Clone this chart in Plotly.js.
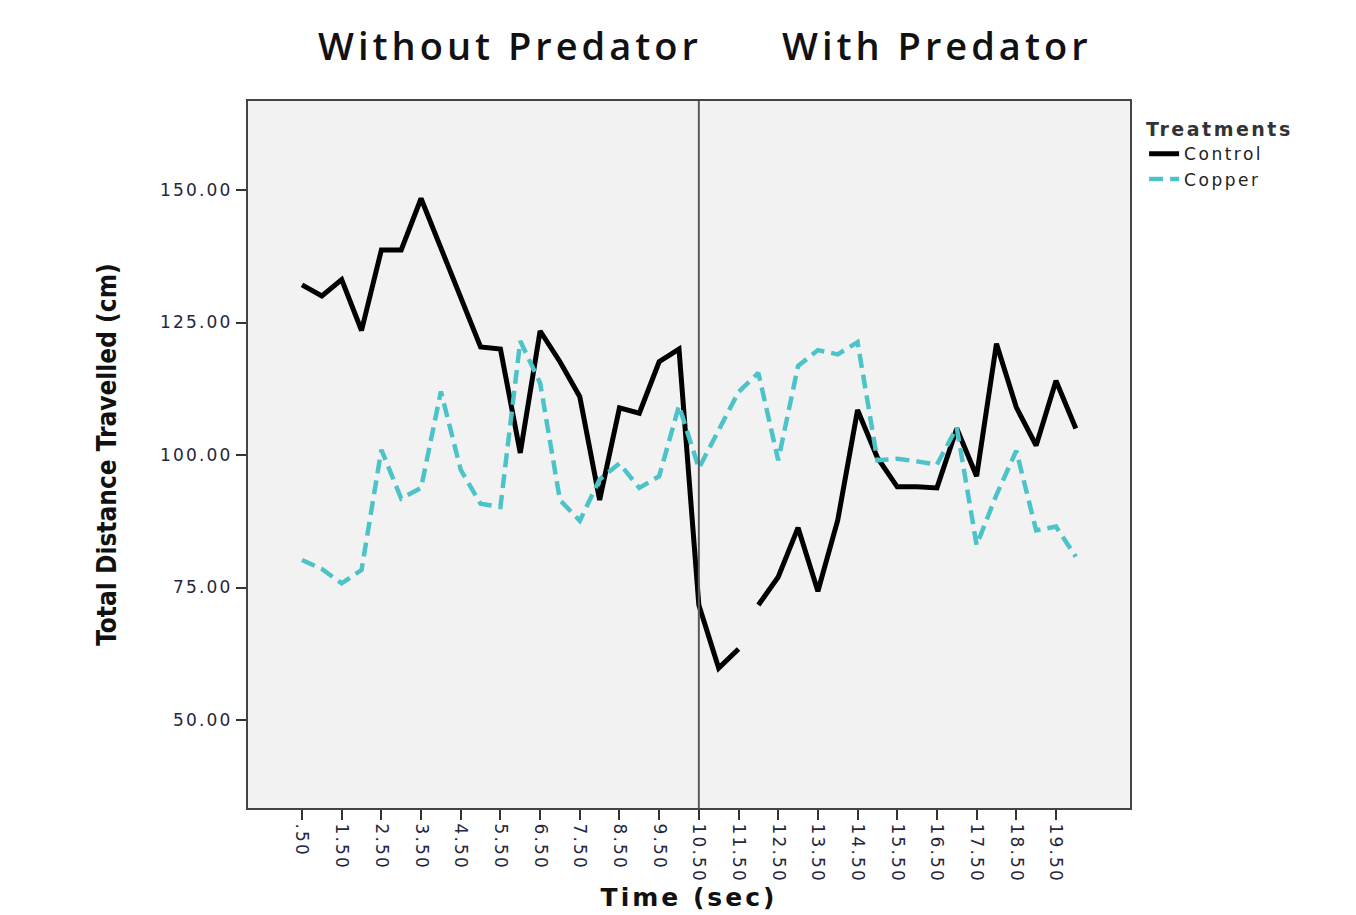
<!DOCTYPE html>
<html>
<head>
<meta charset="utf-8">
<script src="https://cdn.plot.ly/plotly-3.0.1.min.js"></script>
<style>
  html, body { margin: 0; padding: 0; background: #ffffff; }
  #chart { width: 1356px; height: 915px; }
  .xtick text, .ytick text { letter-spacing: 2.2px; }
  .g-xtitle text { letter-spacing: 3px; }
  .legendtext { letter-spacing: 2.5px; }
  .legendtitletext { letter-spacing: 2.5px; }
  .annotation-text { letter-spacing: 4px; }
</style>
</head>
<body>
<div id="chart"></div>
<script>
// Time points (sec)
const timePoints = [0.5, 1.0, 1.5, 2.0, 2.5, 3.0, 3.5, 4.0, 4.5, 5.0,
                    5.5, 6.0, 6.5, 7.0, 7.5, 8.0, 8.5, 9.0, 9.5, 10.0,
                    10.5, 11.0, 11.5, 12.0, 12.5, 13.0, 13.5, 14.0, 14.5, 15.0,
                    15.5, 16.0, 16.5, 17.0, 17.5, 18.0, 18.5, 19.0, 19.5, 20.0];

// Total distance travelled (cm)
const controlValues = [132.1, 130.0, 133.1, 123.5, 138.7, 138.7, 148.4, 139.1, 129.7, 120.4,
                       120.0, 100.4, 123.4, 117.6, 111.0, 91.5, 108.9, 107.9, 117.6, 120.0,
                       71.7, 59.8, 63.4, 71.7, 77.0, 86.3, 74.3, 87.7, 108.5, 99.5,
                       94.0, 94.0, 93.8, 105.0, 96.0, 121.0, 109.0, 101.8, 114.0, 105.0];

const copperValues = [80.2, 78.5, 75.8, 78.3, 101.0, 91.8, 93.8, 112.0, 97.2, 90.8,
                      90.2, 121.5, 113.6, 91.5, 87.6, 95.4, 98.4, 93.8, 96.0, 109.3,
                      97.5, 104.5, 111.9, 115.5, 99.0, 116.8, 119.8, 119.0, 121.3, 99.0,
                      99.3, 98.8, 98.2, 105.2, 83.0, 92.5, 100.8, 85.8, 86.5, 80.8];

// Control line is broken between these two time points
const breakAfter = 11.5;

const tickValues = [0.5, 1.5, 2.5, 3.5, 4.5, 5.5, 6.5, 7.5, 8.5, 9.5,
                    10.5, 11.5, 12.5, 13.5, 14.5, 15.5, 16.5, 17.5, 18.5, 19.5];
const tickLabels = [".50", "1.50", "2.50", "3.50", "4.50", "5.50", "6.50", "7.50", "8.50", "9.50",
                    "10.50", "11.50", "12.50", "13.50", "14.50", "15.50", "16.50", "17.50", "18.50", "19.50"];

const seriesNames = ["Control", "Copper"];
const panelTitles = ["Without Predator", "With Predator"];
const predatorTime = 10.5;

const splitIdx = timePoints.indexOf(breakAfter) + 1;

const traces = [
  {
    x: timePoints.slice(0, splitIdx), y: controlValues.slice(0, splitIdx),
    type: 'scatter', mode: 'lines', name: seriesNames[0], legendgroup: 'control',
    line: { color: '#000000', width: 5 }
  },
  {
    x: timePoints.slice(splitIdx), y: controlValues.slice(splitIdx),
    type: 'scatter', mode: 'lines', name: seriesNames[0], legendgroup: 'control',
    showlegend: false,
    line: { color: '#000000', width: 5 }
  },
  {
    x: timePoints, y: copperValues,
    type: 'scatter', mode: 'lines', name: seriesNames[1], legendgroup: 'copper',
    line: { color: '#4cc3c8', width: 4.5, dash: '14px,7px' }
  }
];

const layout = {
  width: 1356, height: 915,
  margin: { l: 248, r: 226, t: 101, b: 107, pad: 0 },
  paper_bgcolor: '#ffffff',
  plot_bgcolor: '#f2f2f2',
  showlegend: true,
  xaxis: {
    range: [-0.861, 21.365],
    tickmode: 'array', tickvals: tickValues, ticktext: tickLabels,
    tickangle: 90,
    ticks: 'outside', ticklen: 10, tickwidth: 2, tickcolor: '#333333',
    showgrid: false, zeroline: false,
    showline: true, mirror: true, linecolor: '#444444', linewidth: 2,
    tickfont: { family: 'DejaVu Sans', size: 17, color: '#26263e' },
    automargin: false,
    title: { text: 'Time (sec)', standoff: 6,
             font: { family: 'DejaVu Sans', size: 25, color: '#111111', weight: 'bold' } }
  },
  yaxis: {
    range: [33.4, 166.8],
    tickmode: 'linear', tick0: 0, dtick: 25, tickformat: '.2f',
    ticks: 'outside', ticklen: 10, tickwidth: 2, tickcolor: '#333333',
    showgrid: false, zeroline: false,
    showline: true, mirror: true, linecolor: '#444444', linewidth: 2,
    tickfont: { family: 'DejaVu Sans', size: 17, color: '#26263e' },
    automargin: false,
    title: { text: 'Total Distance Travelled (cm)', standoff: 36,
             font: { family: 'Liberation Sans Narrow, DejaVu Sans Condensed, sans-serif', size: 26, color: '#111111', weight: 'bold' } }
  },
  legend: {
    x: 1.016, xanchor: 'left', y: 0.985, yanchor: 'top',
    bgcolor: 'rgba(0,0,0,0)', borderwidth: 0,
    font: { family: 'DejaVu Sans', size: 17, color: '#222222' },
    title: { text: 'Treatments', font: { family: 'DejaVu Sans', size: 19, color: '#333333', weight: 'bold' } },
    tracegroupgap: 0, itemwidth: 30
  },
  shapes: [
    { type: 'line', xref: 'x', yref: 'paper', x0: predatorTime, x1: predatorTime, y0: 0, y1: 1,
      line: { color: '#5a5a5a', width: 2 } }
  ],
  annotations: [
    { text: panelTitles[0], xref: 'paper', yref: 'paper', x: (510 - 248) / 882, y: 1 + (101 - 45) / 707,
      xanchor: 'center', yanchor: 'middle', showarrow: false,
      font: { family: 'Open Sans', size: 38, color: '#111111', weight: 600 } },
    { text: panelTitles[1], xref: 'paper', yref: 'paper', x: (937 - 248) / 882, y: 1 + (101 - 45) / 707,
      xanchor: 'center', yanchor: 'middle', showarrow: false,
      font: { family: 'Open Sans', size: 38, color: '#111111', weight: 600 } }
  ]
};

Plotly.newPlot('chart', traces, layout, { displayModeBar: false, staticPlot: true });
</script>
</body>
</html>
